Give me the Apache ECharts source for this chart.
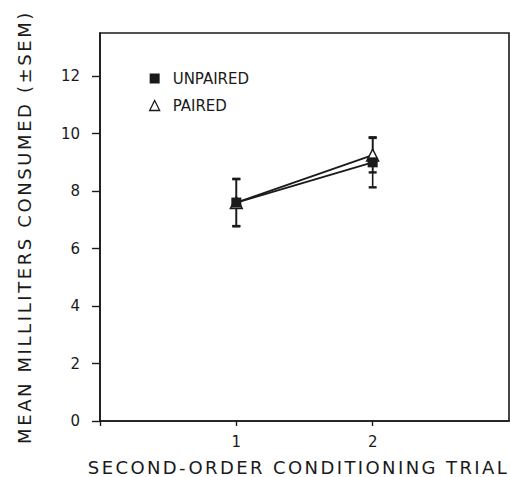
<!DOCTYPE html>
<html>
<head>
<meta charset="utf-8">
<script src="https://cdn.jsdelivr.net/npm/echarts@6/dist/echarts.min.js"></script>
<style>
  html, body { margin: 0; padding: 0; background: #fff; }
  #chart { width: 510px; height: 477px; }
</style>
</head>
<body>
<div id="chart"></div>
<script>
// Second-order conditioning: mean consumption (ml) with SEM per trial
const trials = [1, 2];
const unpairedMean = [7.6, 9.0];
const unpairedSem = [0.82, 0.87];
const pairedMean = [7.6, 9.25];
const pairedSem = [0.82, 0.6];
const yTicks = [0, 2, 4, 6, 8, 10, 12];
const xTicks = [0, 1, 2];
const xLabels = [1, 2];
const xTitle = 'SECOND-ORDER CONDITIONING TRIAL';
const yTitle = 'MEAN MILLILITERS CONSUMED (±SEM)';

const FONT = 'DejaVu Sans';
const INK = '#1a1a1a';

function pointsOf(means) {
  return trials.map((t, i) => [t, means[i]]);
}
function barsOf(means, sems) {
  return trials.map((t, i) => [t, means[i] - sems[i], means[i] + sems[i]]);
}

// vertical SEM bar with flat caps
function renderErrorBar(params, api) {
  const x = api.value(0);
  const lo = api.coord([x, api.value(1)]);
  const hi = api.coord([x, api.value(2)]);
  const half = 4;
  return {
    type: 'group',
    children: [
      { type: 'line', shape: { x1: lo[0], y1: lo[1], x2: hi[0], y2: hi[1] },
        style: { stroke: INK, lineWidth: 1.6 } },
      { type: 'line', shape: { x1: lo[0] - half, y1: lo[1], x2: lo[0] + half, y2: lo[1] },
        style: { stroke: INK, lineWidth: 2.4 } },
      { type: 'line', shape: { x1: hi[0] - half, y1: hi[1], x2: hi[0] + half, y2: hi[1] },
        style: { stroke: INK, lineWidth: 2.4 } }
    ]
  };
}

const chart = echarts.init(document.getElementById('chart'), null, { renderer: 'svg' });

chart.setOption({
  animation: false,
  backgroundColor: '#fff',
  grid: {
    left: 100, right: 1, top: 33, bottom: 56,
    outerBoundsMode: 'none',
    containLabel: false,
    show: true, borderColor: INK, borderWidth: 1.6, backgroundColor: 'transparent'
  },
  legend: {
    orient: 'vertical',
    left: 144, top: 66,
    itemWidth: 10, itemHeight: 10, itemGap: 12,
    textStyle: { fontFamily: FONT, fontSize: 15, color: INK, padding: [0, 0, 0, 8] },
    data: [
      { name: 'UNPAIRED', icon: 'rect', itemStyle: { color: INK } },
      { name: 'PAIRED', icon: 'triangle',
        itemStyle: { color: '#fff', borderColor: INK, borderWidth: 1.3 } }
    ]
  },
  xAxis: {
    type: 'value',
    min: 0, max: 3,
    name: xTitle,
    nameLocation: 'middle',
    nameGap: 37,
    nameTextStyle: { fontFamily: FONT, fontSize: 18, color: INK, padding: [0, 12, 0, 0] },
    splitLine: { show: false },
    axisLine: { show: true, lineStyle: { color: INK, width: 1.6 } },
    axisTick: { show: true, length: 5, inside: false, customValues: xTicks,
      lineStyle: { color: INK, width: 1.4 } },
    axisLabel: { customValues: xLabels, fontFamily: FONT, fontSize: 15, color: INK, margin: 13 }
  },
  yAxis: {
    type: 'value',
    min: 0, max: 13.5,
    name: yTitle,
    nameLocation: 'middle',
    nameRotate: 90,
    nameGap: 67,
    nameTextStyle: { fontFamily: FONT, fontSize: 18, color: INK },
    splitLine: { show: false },
    axisLine: { show: true, lineStyle: { color: INK, width: 1.6 } },
    axisTick: { show: true, length: 8, inside: false, customValues: yTicks,
      lineStyle: { color: INK, width: 1.4 } },
    axisLabel: { customValues: yTicks, fontFamily: FONT, fontSize: 15, color: INK, margin: 20 }
  },
  series: [
    {
      name: 'UNPAIRED bars',
      type: 'custom',
      renderItem: renderErrorBar,
      encode: { x: 0, y: [1, 2] },
      data: barsOf(unpairedMean, unpairedSem),
      z: 1
    },
    {
      name: 'PAIRED bars',
      type: 'custom',
      renderItem: renderErrorBar,
      encode: { x: 0, y: [1, 2] },
      data: barsOf(pairedMean, pairedSem),
      z: 1
    },
    {
      name: 'PAIRED',
      type: 'line',
      data: pointsOf(pairedMean),
      symbol: 'triangle',
      symbolSize: 12,
      lineStyle: { color: INK, width: 1.8 },
      itemStyle: { color: '#fff', borderColor: INK, borderWidth: 1.4 },
      z: 3
    },
    {
      name: 'UNPAIRED',
      type: 'line',
      data: pointsOf(unpairedMean),
      symbol: 'rect',
      symbolSize: 10,
      lineStyle: { color: INK, width: 1.8 },
      itemStyle: { color: INK },
      z: 4
    }
  ]
});

// the axis titles are set in a widely tracked lettering
function spaceTitles() {
  document.querySelectorAll('#chart text').forEach(function (t) {
    if (t.textContent === xTitle) {
      t.setAttribute('letter-spacing', '2.4');
    } else if (t.textContent === yTitle) {
      t.setAttribute('letter-spacing', '2.6');
    }
  });
}
spaceTitles();
chart.on('finished', spaceTitles);
</script>
</body>
</html>
